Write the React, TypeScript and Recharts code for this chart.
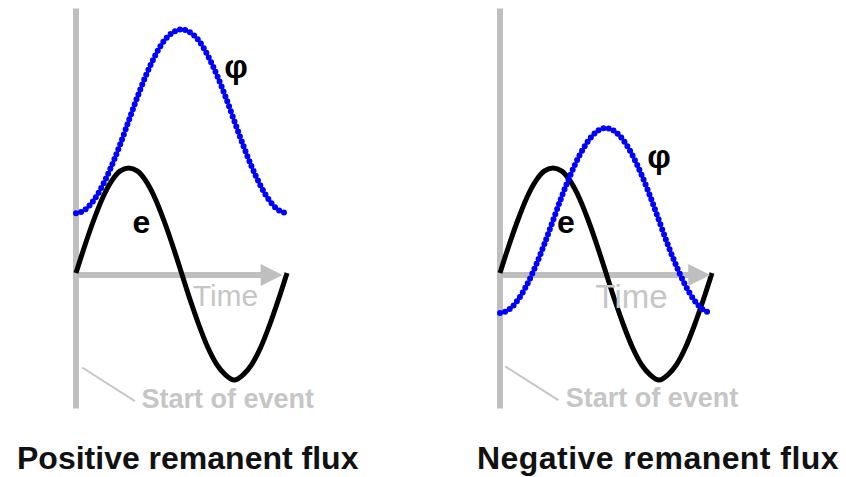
import React from 'react';
import { LineChart, Line, XAxis, YAxis, ReferenceLine, ReferenceDot } from 'recharts';

// time samples over one cycle (24 steps)
const timeSteps = [0, 1, 2, 3, 4, 5, 6, 7, 8, 9, 10, 11, 12, 13, 14, 15, 16, 17, 18, 19, 20, 21, 22, 23, 24];
// voltage e (same in both panels)
const voltage = [0, 0.26, 0.5, 0.71, 0.87, 0.97, 1, 0.97, 0.87, 0.71, 0.5, 0.26, 0, -0.26, -0.5, -0.71, -0.87, -0.97, -1.02, -0.97, -0.87, -0.71, -0.5, -0.26, 0];
// flux φ, positive remanent flux
const fluxPositive = [0.57, 0.6, 0.69, 0.83, 1.01, 1.22, 1.45, 1.68, 1.89, 2.07, 2.21, 2.29, 2.32, 2.29, 2.21, 2.07, 1.89, 1.68, 1.45, 1.22, 1.01, 0.83, 0.69, 0.6, 0.57];
// flux φ, negative remanent flux
const fluxNegative = [-0.38, -0.35, -0.26, -0.12, 0.06, 0.27, 0.5, 0.73, 0.94, 1.12, 1.26, 1.35, 1.38, 1.35, 1.26, 1.12, 0.94, 0.73, 0.5, 0.27, 0.06, -0.12, -0.26, -0.35, -0.38];

const titles = ['Positive remanent flux', 'Negative remanent flux'];
const timeLabel = 'Time';
const eventLabel = 'Start of event';
const phiLabel = 'φ';
const eLabel = 'e';

const GRAY = '#bfbfbf';
const TEXT_GRAY = '#c6c6c6';
const FONT = '"Liberation Sans", Arial, sans-serif';

type PanelCfg = {
  left: number;
  margin: { left: number; right: number; top: number; bottom: number };
  flux: number[];
  phiPos: [number, number];
  ePos: [number, number];
  timePos: [number, number];
  timeSize: number;
  eventPos: [number, number];
  diag: [number, number, number, number];
  arrowBase: number;
  arrowTip: number;
  title: string;
  titleLeft: number;
  titleSpacing: number;
};

const panels: PanelCfg[] = [
  {
    left: 0,
    margin: { left: 76, right: 136, top: 0, bottom: 57 },
    flux: fluxPositive,
    phiPos: [18.2, 1.86],
    ePos: [7.45, 0.38],
    timePos: [17.0, -0.31],
    timeSize: 30,
    eventPos: [17.25, -1.29],
    diag: [0.7, -0.9, 6.7, -1.22],
    arrowBase: 21.3,
    arrowTip: 23.5,
    title: titles[0],
    titleLeft: 17,
    titleSpacing: 0,
  },
  {
    left: 423,
    margin: { left: 77, right: 134, top: 0, bottom: 57 },
    flux: fluxNegative,
    phiPos: [18.0, 1.0],
    ePos: [7.47, 0.38],
    timePos: [14.9, -0.33],
    timeSize: 33,
    eventPos: [17.2, -1.28],
    diag: [0.6, -0.89, 6.6, -1.21],
    arrowBase: 21.4,
    arrowTip: 23.8,
    title: titles[1],
    titleLeft: 477,
    titleSpacing: 0.45,
  },
];

const textShape = (txt: string, size: number, weight: number | string, fill: string) => (p: any) => (
  <text x={p.cx} y={p.cy} textAnchor="middle" fontFamily={FONT} fontSize={size} fontWeight={weight} fill={fill}>
    {txt}
  </text>
);

const arrowShape = (p: any) => (
  <polygon points={`${p.cx},${p.cy} ${p.cx - 22},${p.cy - 11} ${p.cx - 22},${p.cy + 11}`} fill={GRAY} />
);

function Panel({ cfg }: { cfg: PanelCfg }) {
  const data = timeSteps.map((t, i) => ({ t, e: voltage[i], phi: cfg.flux[i] }));
  return (
    <div style={{ position: 'absolute', left: cfg.left, top: 0, width: 423, height: 477 }}>
      <LineChart width={423} height={477} data={data} margin={cfg.margin}>
        <XAxis dataKey="t" type="number" domain={[0, 24]} hide />
        <YAxis type="number" domain={[-1.4, 2.6]} hide allowDataOverflow />
        <ReferenceLine
          segment={[{ x: 0, y: 2.52 }, { x: 0, y: -1.29 }]}
          stroke={GRAY}
          strokeWidth={6}
          ifOverflow="visible"
        />
        <ReferenceLine
          segment={[{ x: cfg.diag[0], y: cfg.diag[1] }, { x: cfg.diag[2], y: cfg.diag[3] }]}
          stroke={TEXT_GRAY}
          strokeWidth={2}
          ifOverflow="visible"
        />
        <ReferenceLine
          segment={[{ x: 0, y: -0.02 }, { x: cfg.arrowBase, y: -0.02 }]}
          stroke={GRAY}
          strokeWidth={6}
          ifOverflow="visible"
        />
        <ReferenceDot x={cfg.arrowTip} y={-0.02} r={1} shape={arrowShape} ifOverflow="visible" />
        <ReferenceDot x={cfg.timePos[0]} y={cfg.timePos[1]} r={1} shape={textShape(timeLabel, cfg.timeSize, 400, TEXT_GRAY)} ifOverflow="visible" />
        <ReferenceDot x={cfg.eventPos[0]} y={cfg.eventPos[1]} r={1} shape={textShape(eventLabel, 27, 700, TEXT_GRAY)} ifOverflow="visible" />
        <ReferenceDot x={cfg.phiPos[0]} y={cfg.phiPos[1]} r={1} shape={textShape(phiLabel, 33, 700, '#000')} ifOverflow="visible" />
        <ReferenceDot x={cfg.ePos[0]} y={cfg.ePos[1]} r={1} shape={textShape(eLabel, 32, 700, '#000')} ifOverflow="visible" />
        <Line
          dataKey="e"
          type="monotone"
          stroke="#000"
          strokeWidth={5}
          dot={false}
          isAnimationActive={false}
        />
        <Line
          dataKey="phi"
          type="monotone"
          stroke="#0000ff"
          strokeWidth={6}
          strokeDasharray="0 5.3"
          strokeLinecap="round"
          dot={false}
          isAnimationActive={false}
        />
      </LineChart>
      <div
        style={{
          position: 'absolute',
          left: cfg.titleLeft - cfg.left,
          top: 442,
          fontFamily: FONT,
          fontWeight: 700,
          fontSize: 32,
          lineHeight: '32px',
          letterSpacing: cfg.titleSpacing,
          whiteSpace: 'nowrap',
          color: '#111',
        }}
      >
        {cfg.title}
      </div>
    </div>
  );
}

export default function App() {
  return (
    <div style={{ position: 'absolute', left: 0, top: 0, width: 846, height: 477, background: '#fff' }}>
      {panels.map((p, i) => (
        <Panel key={i} cfg={p} />
      ))}
    </div>
  );
}
